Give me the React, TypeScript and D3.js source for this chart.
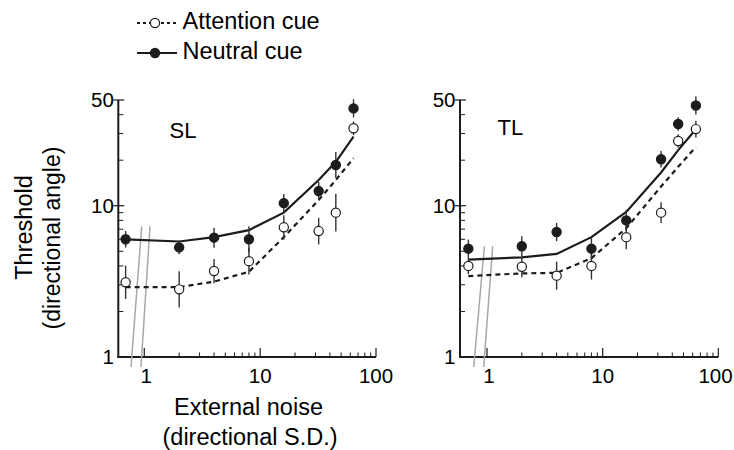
import React, { useEffect, useRef } from "react";
import * as d3 from "d3";

// external noise levels (0.69 = the "no noise" point drawn left of the axis break)
const noise = [0.69, 2, 4, 8, 16, 32, 45, 64];

// SL panel
const slNeutral = [6.0, 5.3, 6.15, 6.0, 10.4, 12.5, 18.6, 44];
const slNeutralErr = [0.055, 0.045, 0.066, 0.086, 0.06, 0.06, 0.086, 0.06]; // log10 half-width
const slAttention = [3.12, 2.8, 3.7, 4.3, 7.2, 6.8, 9.0, 32.5];
const slAttentionErr = [0.11, 0.12, 0.08, 0.088, 0.08, 0.088, 0.125, 0.045];
const slNeutralFit = [6.0, 5.8, 6.2, 6.9, 9.0, 14.8, 19.5, 28.6];
const slAttentionFit = [2.9, 2.9, 3.15, 3.66, 6.2, 10.9, 14.8, 20.6];

// TL panel
const tlNeutral = [5.2, 5.4, 6.7, 5.2, 8.0, 20.3, 34.7, 46];
const tlNeutralErr = [0.06, 0.066, 0.06, 0.077, 0.07, 0.055, 0.044, 0.06];
const tlAttention = [4.0, 3.95, 3.45, 4.0, 6.2, 9.0, 26.8, 32.1];
const tlAttentionErr = [0.055, 0.07, 0.093, 0.09, 0.08, 0.068, 0.044, 0.055];
const tlNeutralFit = [4.4, 4.56, 4.8, 6.2, 9.1, 16.6, 23.3, 32];
const tlAttentionFit = [3.43, 3.57, 3.6, 4.5, 7.1, 13.4, 18.1, 24.5];

const yMajor = [1, 10, 50];
const yMinor = [2, 3, 4, 5, 6, 7, 8, 9, 20, 30, 40];
const xMajor = [1, 10, 100];
const xMinor = [2, 3, 4, 5, 6, 7, 8, 9, 20, 30, 40, 50, 60, 70, 80, 90];

const FONT = "'Liberation Sans', Arial, Helvetica, sans-serif";
const INK = "#1c1c1c";

const App = () => {
  const svgRef = useRef(null);

  useEffect(() => {
    const svg = d3.select(svgRef.current);
    svg.selectAll("*").remove();

    const y = d3.scaleLog().domain([1, 50]).range([357, 100]);

    const panels = [
      {
        name: "SL", x0: 144.3, x1: 376, axisX: 118.3, nameX: 169.5, nameY: 138, breakTop: 7.3,
        neutral: slNeutral, neutralErr: slNeutralErr, attention: slAttention, attentionErr: slAttentionErr,
        neutralFit: slNeutralFit, attentionFit: slAttentionFit,
      },
      {
        name: "TL", x0: 487, x1: 718.3, axisX: 460, nameX: 497.5, nameY: 135, breakTop: 5.4,
        neutral: tlNeutral, neutralErr: tlNeutralErr, attention: tlAttention, attentionErr: tlAttentionErr,
        neutralFit: tlNeutralFit, attentionFit: tlAttentionFit,
      },
    ];

    panels.forEach(p => {
      const x = d3.scaleLog().domain([1, 100]).range([p.x0, p.x1]);
      const g = svg.append("g");

      // axes
      g.append("line").attr("x1", p.axisX).attr("x2", p.axisX).attr("y1", y(50)).attr("y2", y(1) + 1)
        .attr("stroke", INK).attr("stroke-width", 2);
      g.append("line").attr("x1", p.axisX - 1).attr("x2", x(100)).attr("y1", y(1)).attr("y2", y(1))
        .attr("stroke", INK).attr("stroke-width", 2);

      g.selectAll(".ymin").data(yMinor).enter().append("line")
        .attr("x1", p.axisX).attr("x2", p.axisX + 5)
        .attr("y1", d => y(d)).attr("y2", d => y(d))
        .attr("stroke", INK).attr("stroke-width", 1);
      g.selectAll(".ymaj").data(yMajor.filter(d => d > 1)).enter().append("line")
        .attr("x1", p.axisX - 5).attr("x2", p.axisX + 6)
        .attr("y1", d => y(d)).attr("y2", d => y(d))
        .attr("stroke", INK).attr("stroke-width", 1.2);
      g.selectAll(".ylab").data(yMajor).enter().append("text")
        .attr("x", p.axisX - 4.5).attr("y", d => y(d)).attr("dy", "0.36em")
        .attr("text-anchor", "end").attr("font-family", FONT).attr("font-size", 20.5).attr("fill", "#000")
        .text(d => d);

      g.selectAll(".xmin").data(xMinor).enter().append("line")
        .attr("x1", d => x(d)).attr("x2", d => x(d))
        .attr("y1", y(1)).attr("y2", y(1) - 4.5)
        .attr("stroke", INK).attr("stroke-width", 1);
      g.selectAll(".xmaj").data(xMajor).enter().append("line")
        .attr("x1", d => x(d)).attr("x2", d => x(d))
        .attr("y1", y(1)).attr("y2", y(1) - 9)
        .attr("stroke", INK).attr("stroke-width", 1.2);
      g.selectAll(".xlab").data(xMajor).enter().append("text")
        .attr("x", d => Math.min(x(d) + (d === 1 ? 2 : 0), 715.5)).attr("y", 383)
        .attr("text-anchor", "middle").attr("font-family", FONT).attr("font-size", 20.5).attr("fill", "#000")
        .text(d => d);

      // axis break
      [[-2.6, -13.3], [5.7, -3.3]].forEach(([top, bottom]) => {
        g.append("line")
          .attr("x1", p.x0 + top).attr("y1", y(p.breakTop))
          .attr("x2", p.x0 + bottom).attr("y2", y(1) + 10)
          .attr("stroke", "#a8a8a8").attr("stroke-width", 1.5);
      });

      // fitted curves
      const line = d3.line().x(d => x(d[0])).y(d => y(d[1]));
      g.append("path").datum(noise.map((n, i) => [n, p.neutralFit[i]]))
        .attr("d", line).attr("fill", "none").attr("stroke", INK).attr("stroke-width", 2.2);
      g.append("path").datum(noise.map((n, i) => [n, p.attentionFit[i]]))
        .attr("d", line).attr("fill", "none").attr("stroke", INK).attr("stroke-width", 2.2)
        .attr("stroke-dasharray", "5,4");

      // error bars + markers
      const series = [
        { vals: p.neutral, err: p.neutralErr, fill: INK },
        { vals: p.attention, err: p.attentionErr, fill: "white" },
      ];
      series.forEach(s => {
        g.selectAll(null).data(s.vals).enter().append("line")
          .attr("x1", (d, i) => x(noise[i])).attr("x2", (d, i) => x(noise[i]))
          .attr("y1", (d, i) => y(d * Math.pow(10, s.err[i])))
          .attr("y2", (d, i) => y(d / Math.pow(10, s.err[i])))
          .attr("stroke", "#333").attr("stroke-width", 1.4);
      });
      series.forEach(s => {
        g.selectAll(null).data(s.vals).enter().append("circle")
          .attr("cx", (d, i) => x(noise[i])).attr("cy", d => y(d)).attr("r", 4.6)
          .attr("fill", s.fill).attr("stroke", INK).attr("stroke-width", 1.2);
      });

      g.append("text").attr("x", p.nameX).attr("y", p.nameY)
        .attr("font-family", FONT).attr("font-size", 22).attr("fill", "#000").text(p.name);
    });

    // axis titles
    const xt = svg.append("text").attr("text-anchor", "middle").attr("font-family", FONT)
      .attr("font-size", 23.5).attr("fill", "#000");
    xt.append("tspan").attr("x", 248.5).attr("y", 415).text("External noise");
    xt.append("tspan").attr("x", 250).attr("y", 445).text("(directional S.D.)");

    svg.append("text").attr("transform", "translate(31.5,227.5) rotate(-90)")
      .attr("text-anchor", "middle").attr("font-family", FONT).attr("font-size", 23.5).attr("fill", "#000")
      .text("Threshold");
    svg.append("text").attr("transform", "translate(59.5,238) rotate(-90)")
      .attr("text-anchor", "middle").attr("font-family", FONT).attr("font-size", 23).attr("fill", "#000")
      .text("(directional angle)");

    // legend
    const legend = [
      { label: "Attention cue", fill: "white", dash: "3,3", y: 23 },
      { label: "Neutral cue", fill: INK, dash: null, y: 53 },
    ];
    legend.forEach(l => {
      svg.append("line").attr("x1", 137).attr("x2", 177).attr("y1", l.y).attr("y2", l.y)
        .attr("stroke", INK).attr("stroke-width", 2).attr("stroke-dasharray", l.dash);
      svg.append("circle").attr("cx", 155).attr("cy", l.y).attr("r", 4.6)
        .attr("fill", l.fill).attr("stroke", INK).attr("stroke-width", 1.2);
      svg.append("text").attr("x", 182.5).attr("y", l.y + 5.5)
        .attr("font-family", FONT).attr("font-size", 23.5).attr("fill", "#000").text(l.label);
    });
  }, []);

  return (
    <svg ref={svgRef} width={734} height={450}
      style={{ position: "absolute", left: 0, top: 0, background: "white" }} />
  );
};

export default App;
